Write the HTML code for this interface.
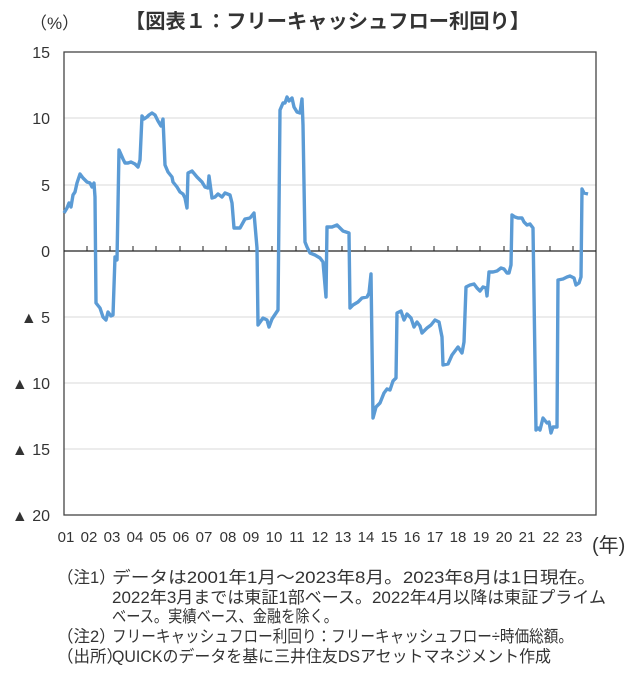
<!DOCTYPE html>
<html><head><meta charset="utf-8"><style>
body{margin:0;background:#fff;}
svg text{font-family:"Liberation Sans","Noto Sans CJK JP",sans-serif;fill:#333;}
</style></head><body>
<svg width="640" height="673" viewBox="0 0 640 673" xmlns="http://www.w3.org/2000/svg">
<text x="125" y="28" font-size="20" font-weight="bold" fill="#222" textLength="405" lengthAdjust="spacingAndGlyphs">【図表１：フリーキャッシュフロー利回り】</text>
<text x="30" y="29" font-size="17">（%）</text>
<g stroke="#d9d9d9" stroke-width="1">
<line x1="64" y1="118" x2="596" y2="118"/>
<line x1="64" y1="185" x2="596" y2="185"/>
<line x1="64" y1="317" x2="596" y2="317"/>
<line x1="64" y1="383" x2="596" y2="383"/>
<line x1="64" y1="449" x2="596" y2="449"/>
</g>
<rect x="64" y="52" width="532" height="463" fill="none" stroke="#444" stroke-width="1.3"/>
<line x1="64" y1="251" x2="596" y2="251" stroke="#222" stroke-width="1.3"/>
<g stroke="#222" stroke-width="1">
<path d="M87 251v-5M110 251v-5M133 251v-5M156 251v-5M180 251v-5M203 251v-5M226 251v-5M249 251v-5M272 251v-5M296 251v-5M319 251v-5M342 251v-5M365 251v-5M388 251v-5M411 251v-5M434 251v-5M457 251v-5M480 251v-5M504 251v-5M527 251v-5M550 251v-5M573 251v-5"/>
</g>
<g font-size="16" text-anchor="end">
<text x="50" y="58">15</text>
<text x="50" y="124">10</text>
<text x="50" y="191">5</text>
<text x="50" y="257">0</text>
<text x="50" y="323">▲ 5</text>
<text x="50" y="389">▲ 10</text>
<text x="50" y="455">▲ 15</text>
<text x="50" y="521">▲ 20</text>
</g>
<g font-size="15" text-anchor="middle">
<text x="66" y="542">01</text><text x="89" y="542">02</text><text x="112" y="542">03</text><text x="135" y="542">04</text><text x="158" y="542">05</text><text x="181" y="542">06</text><text x="204" y="542">07</text><text x="228" y="542">08</text><text x="251" y="542">09</text><text x="274" y="542">10</text><text x="297" y="542">11</text><text x="320" y="542">12</text><text x="343" y="542">13</text><text x="366" y="542">14</text><text x="389" y="542">15</text><text x="412" y="542">16</text><text x="435" y="542">17</text><text x="458" y="542">18</text><text x="481" y="542">19</text><text x="504" y="542">20</text><text x="527" y="542">21</text><text x="551" y="542">22</text><text x="574" y="542">23</text>
</g>
<text x="592" y="552" font-size="20">(年)</text>
<polyline fill="none" stroke="#5b9bd5" stroke-width="3.4" stroke-linejoin="round" points="64,213 67,208 69,203 71,207 73,195 75,192 77,183 80,174 83,178 87,182 90,183 92,187 94,183 95,197 96,303 100,308 103,317 106,320 108,312 111,316 113,315 115,257 117,260 119,150 123,159 125,163 128,163 131,162 135,164 138,167 140,160 142,116 144,119 147,117 149,115 152,113 155,115 158,121 161,126 163,119 165,165 168,172 172,177 173,182 177,187 180,192 183,194 185,198 187,208 188,173 192,171 197,177 202,182 205,187 208,188 209,176 212,198 215,197 218,194 222,197 225,193 230,195 232,203 234,228 240,228 245,219 250,218 254,213 257,248 258,325 263,318 267,320 269,327 272,319 276,313 278,310 280,110 283,103 285,103 287,97 289,101 292,98 294,107 297,112 300,113 302,99 303,125 305,242 307,247 310,253 315,255 320,258 323,262 326,297 327,227 332,227 337,225 340,228 343,231 349,233 350,308 353,305 358,302 362,298 367,297 369,293 371,274 373,418 376,407 380,403 384,393 387,389 390,390 393,381 396,378 397,313 401,311 404,320 407,314 411,318 414,327 417,322 420,326 422,333 427,328 431,325 435,320 439,322 442,337 443,365 448,364 452,355 455,351 458,347 462,353 464,342 466,287 470,285 474,284 477,288 480,291 483,287 486,288 487,296 489,272 493,272 497,271 501,268 504,269 507,273 509,273 511,265 512,215 515,217 518,218 522,218 524,222 527,225 530,224 533,228 536,430 538,428 540,430 543,418 547,423 549,422 551,433 553,427 557,427 558,280 563,279 567,277 570,276 574,278 576,285 579,283 581,277 582,189 584,193 588,194"/>
<g font-size="16.5">
<text x="57" y="583">（注1）</text>
<text x="112" y="583" textLength="484" lengthAdjust="spacingAndGlyphs">データは2001年1月～2023年8月。2023年8月は1日現在。</text>
<text x="112" y="603" textLength="494" lengthAdjust="spacingAndGlyphs">2022年3月までは東証1部ベース。2022年4月以降は東証プライム</text>
<text x="112" y="622" textLength="226" lengthAdjust="spacingAndGlyphs">ベース。実績ベース、金融を除く。</text>
<text x="57" y="642">（注2）</text>
<text x="112" y="642" textLength="461" lengthAdjust="spacingAndGlyphs">フリーキャッシュフロー利回り：フリーキャッシュフロー÷時価総額。</text>
<text x="57" y="662">（出所）</text>
<text x="112" y="662" textLength="439" lengthAdjust="spacingAndGlyphs">QUICKのデータを基に三井住友DSアセットマネジメント作成</text>
</g>
</svg>
</body></html>
